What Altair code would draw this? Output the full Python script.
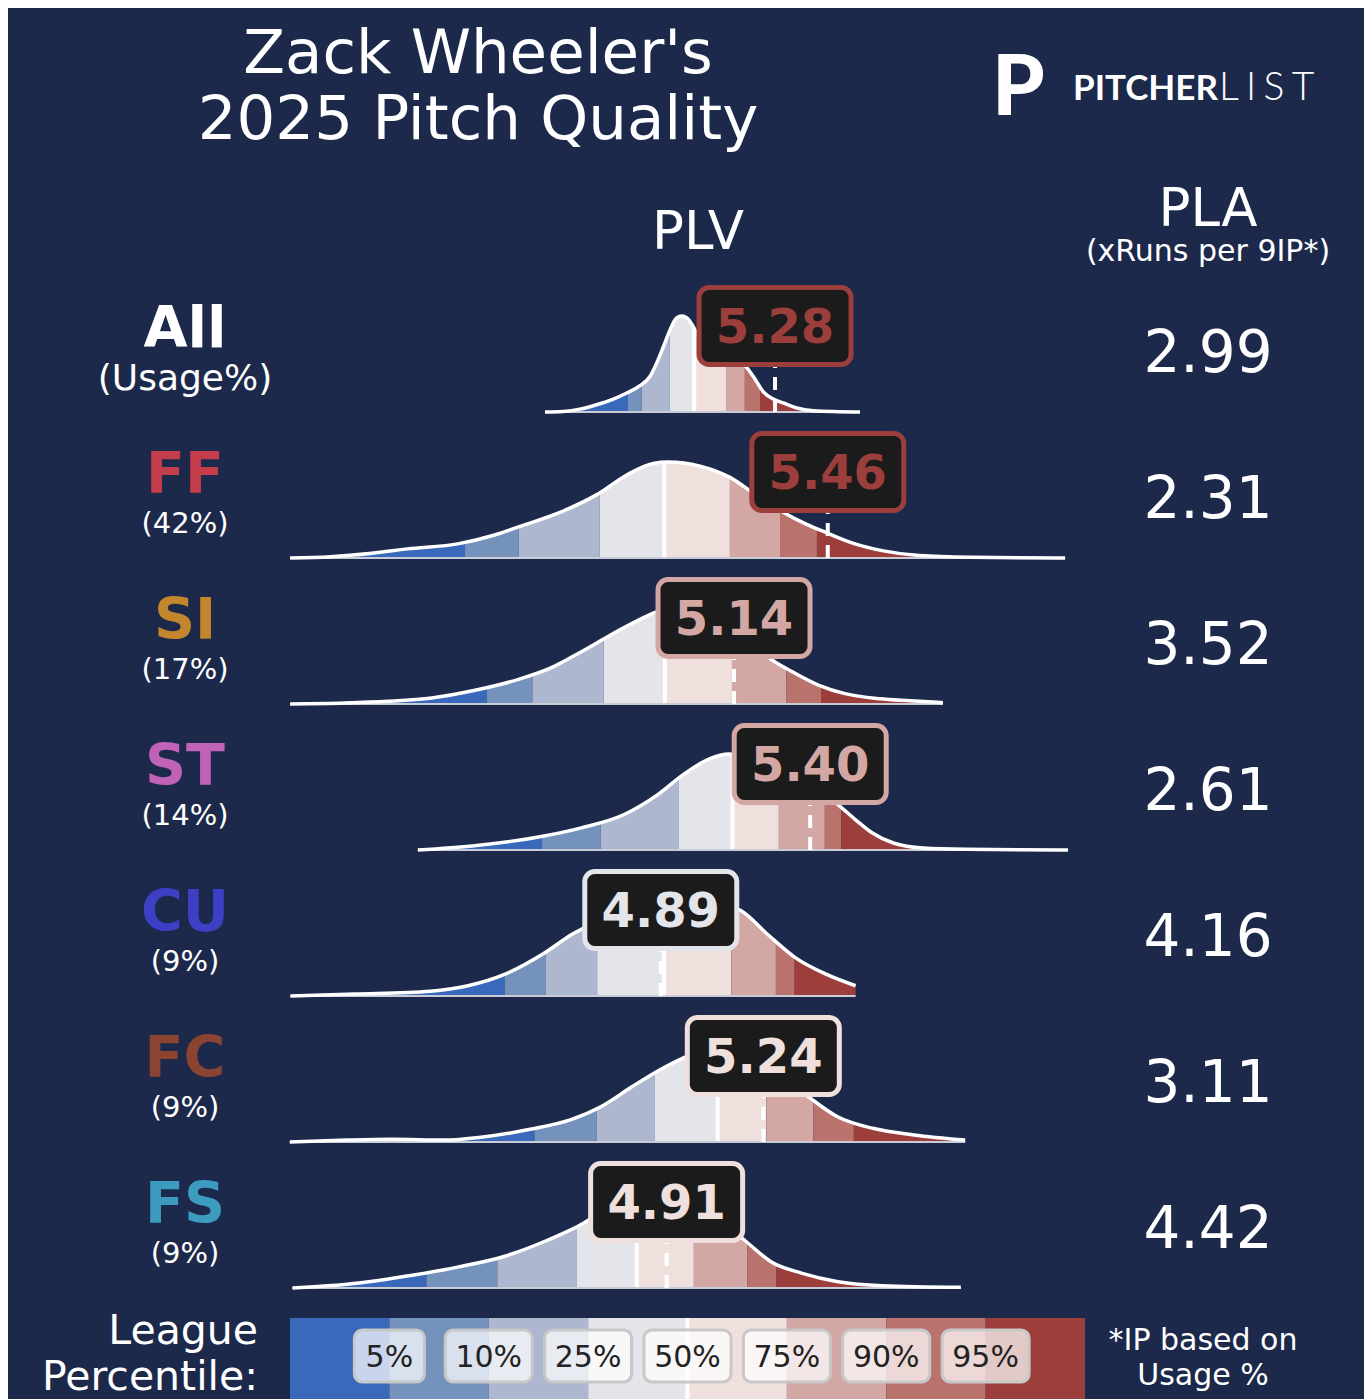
import altair as alt
import pandas as pd

BG = "#1c294b"
BAND_COLORS = ["#3a69bb", "#7592bd", "#adb8d0", "#e4e5ea", "#f0e0dd", "#d3a7a4", "#b9726c", "#9c3f3c"]

pitch_names = ["All", "FF", "SI", "ST", "CU", "FC", "FS"]
pitch_colors = ["#ffffff", "#c43d4b", "#c4862c", "#c063b8", "#3d40c4", "#8a4431", "#3e9bc0"]
usage_text = ["(Usage%)", "(42%)", "(17%)", "(14%)", "(9%)", "(9%)", "(9%)"]
plv_values = [5.28, 5.46, 5.14, 5.40, 4.89, 5.24, 4.91]
pla_values = ["2.99", "2.31", "3.52", "2.61", "4.16", "3.11", "4.42"]

# league percentile cut points (5,10,25,50,75,90,95) in PLV units, per row
edges_all = [4.777, 4.825, 4.921, 5.004, 5.115, 5.177, 5.229]
edges_ff = [4.222, 4.405, 4.681, 4.902, 5.126, 5.297, 5.423]
edges_si = [4.296, 4.452, 4.695, 4.904, 5.133, 5.318, 5.437]
edges_st = [4.485, 4.685, 4.952, 5.135, 5.293, 5.450, 5.506]
edges_cu = [4.357, 4.498, 4.673, 4.901, 5.131, 5.283, 5.347]
edges_fc = [4.459, 4.672, 4.870, 5.084, 5.250, 5.411, 5.549]
edges_fs = [4.090, 4.332, 4.604, 4.808, 5.003, 5.186, 5.285]

# density curves (PLV, relative height)
all_x = [4.495, 4.557, 4.614, 4.671, 4.728, 4.774, 4.819, 4.853, 4.876, 4.899, 4.922, 4.944, 4.962, 4.979,
         5.001, 5.024, 5.047, 5.081, 5.126, 5.172, 5.206, 5.240, 5.274, 5.308, 5.354, 5.411, 5.570]
all_h = [0, 0.006, 0.03, 0.076, 0.135, 0.198, 0.274, 0.37, 0.51, 0.68, 0.857, 0.98, 1.0, 0.98,
         0.89, 0.75, 0.683, 0.614, 0.56, 0.50, 0.37, 0.21, 0.135, 0.094, 0.042, 0.014, 0]
ff_x = [3.625, 3.764, 3.904, 4.026, 4.201, 4.323, 4.410, 4.550, 4.672, 4.777, 4.864, 4.916, 5.021, 5.126,
        5.213, 5.300, 5.388, 5.458, 5.545, 5.650, 5.772, 5.946, 6.270]
ff_h = [0, 0.014, 0.05, 0.095, 0.15, 0.24, 0.33, 0.48, 0.66, 0.87, 0.985, 1.0, 0.96, 0.84,
        0.66, 0.49, 0.35, 0.26, 0.155, 0.074, 0.025, 0.007, 0]
si_x = [3.625, 3.810, 3.959, 4.108, 4.256, 4.405, 4.509, 4.628, 4.717, 4.806, 4.881, 4.969, 5.058, 5.147,
        5.222, 5.266, 5.341, 5.430, 5.519, 5.638, 5.741, 5.853]
si_h = [0, 0.01, 0.028, 0.063, 0.143, 0.257, 0.368, 0.56, 0.716, 0.86, 0.965, 1.0, 0.93, 0.77,
        0.58, 0.467, 0.333, 0.195, 0.108, 0.055, 0.034, 0.014]
st_x = [4.061, 4.254, 4.473, 4.619, 4.765, 4.881, 4.969, 5.056, 5.122, 5.202, 5.304, 5.392, 5.480, 5.553,
        5.611, 5.684, 5.786, 5.932, 6.280]
st_h = [0, 0.045, 0.135, 0.23, 0.37, 0.58, 0.79, 0.95, 1.0, 0.97, 0.85, 0.70, 0.51, 0.32,
        0.18, 0.073, 0.02, 0.007, 0]
cu_x = [3.626, 3.847, 4.104, 4.232, 4.361, 4.489, 4.592, 4.643, 4.720, 4.810, 4.900, 5.002, 5.093, 5.163,
        5.259, 5.349, 5.452, 5.555]
cu_h = [0, 0.02, 0.05, 0.107, 0.23, 0.44, 0.65, 0.73, 0.83, 0.92, 0.97, 1.0, 0.96, 0.89,
        0.63, 0.40, 0.23, 0.107]
fc_x = [3.624, 3.820, 3.971, 4.154, 4.276, 4.444, 4.581, 4.687, 4.794, 4.886, 4.977, 5.053, 5.114, 5.190,
        5.266, 5.343, 5.389, 5.495, 5.617, 5.754, 5.929]
fc_h = [0, 0.02, 0.028, 0.02, 0.049, 0.132, 0.23, 0.37, 0.58, 0.75, 0.89, 0.98, 1.0, 0.9,
        0.75, 0.58, 0.48, 0.26, 0.14, 0.073, 0.02]
fs_x = [3.633, 3.819, 4.047, 4.200, 4.352, 4.505, 4.626, 4.687, 4.748, 4.824, 4.916, 5.008, 5.099, 5.175,
        5.266, 5.373, 5.495, 5.647, 5.914]
fs_h = [0, 0.038, 0.135, 0.22, 0.326, 0.5, 0.674, 0.795, 0.91, 0.99, 0.96, 0.84, 0.68, 0.5,
        0.274, 0.153, 0.066, 0.024, 0.007]

legend_labels = ["5%", "10%", "25%", "50%", "75%", "90%", "95%"]

curves = [(all_x, all_h), (ff_x, ff_h), (si_x, si_h), (st_x, st_h), (cu_x, cu_h), (fc_x, fc_h), (fs_x, fs_h)]
edges = [edges_all, edges_ff, edges_si, edges_st, edges_cu, edges_fc, edges_fs]

# ---------------- layout constants ----------------
W, H = 1356, 1391
PX_PER_PLV = 293.0
X_OFF = 780.0
ROW_PX = 146.0
TOP_PX = 404.0
DENS_PX = 96.0
FONT = "DejaVu Sans"
MASK_PAD = 0.03


def r(px):
    return px / ROW_PX


x_scale = alt.Scale(domain=[X_OFF / PX_PER_PLV, (W + X_OFF) / PX_PER_PLV], nice=False, zero=False)
y_scale = alt.Scale(domain=[-TOP_PX / ROW_PX, (H - TOP_PX) / ROW_PX], reverse=True, nice=False, zero=False)
LEG_X0 = 282.0
LEG_W = 99.375
lx_scale = alt.Scale(domain=[-LEG_X0 / LEG_W, (W - LEG_X0) / LEG_W], nice=False, zero=False)
band_color = alt.Color("band:O", scale=alt.Scale(domain=list(range(8)), range=BAND_COLORS), legend=None)


def X(f, sc=x_scale):
    return alt.X(f, type="quantitative", scale=sc, axis=None)


def Y(f):
    return alt.Y(f, type="quantitative", scale=y_scale, axis=None)


# ---------------- data frames ----------------
curve_rows, mask_rows, band_rows, med_rows, base_rows, val_rows, lab_rows = [], [], [], [], [], [], []
for i, ((xs, hs), ed) in enumerate(zip(curves, edges)):
    ys = [i - h * DENS_PX / ROW_PX for h in hs]
    for x, y in zip(xs, ys):
        curve_rows.append(dict(row=i, x=x, y=y))
    # the mask follows the curve and reaches a little past both ends
    mask_rows.append(dict(row=i, x=xs[0] - MASK_PAD, y=ys[0], ytop=i - r(114)))
    for x, y in zip(xs, ys):
        mask_rows.append(dict(row=i, x=x, y=y, ytop=i - r(114)))
    mask_rows.append(dict(row=i, x=xs[-1] + MASK_PAD, y=ys[-1], ytop=i - r(114)))
    bounds = [xs[0]] + ed + [xs[-1]]
    for k in range(8):
        a, b = max(bounds[k], xs[0]), min(bounds[k + 1], xs[-1])
        if b > a:
            band_rows.append(dict(row=i, band=k, x1=a, x2=b, y1=i, y2=i - r(108)))
    med_rows.append(dict(row=i, x=ed[3], y1=i, y2=i - r(108)))
    base_rows.append(dict(row=i, x1=xs[0], x2=xs[-1], y=i))
    v = plv_values[i]
    bidx = sum(1 for e in ed if v > e)
    half_w = 76 / PX_PER_PLV
    val_rows.append(dict(row=i, v=v, label=f"{v:.2f}", color=BAND_COLORS[bidx],
                         x1=v - half_w, x2=v + half_w,
                         by1=i - r(86 - 38.5), by2=i - r(86 + 38.5),
                         yc=i - r(86), yt=i - r(69.5), y0=i))
    lab_rows.append(dict(row=i, name=pitch_names[i], ncolor=pitch_colors[i], yname=i - r(65),
                         usage=usage_text[i], yusage=i - r(22 if i == 0 else 25),
                         usize=36 if i == 0 else 29,
                         pla=pla_values[i], ypla=i - r(40)))

curve_df = pd.DataFrame(curve_rows)
mask_df = pd.DataFrame(mask_rows)
band_df = pd.DataFrame(band_rows)
med_df = pd.DataFrame(med_rows)
base_df = pd.DataFrame(base_rows)
val_df = pd.DataFrame(val_rows)
lab_df = pd.DataFrame(lab_rows)

# ---------------- main layers ----------------
bands = alt.Chart(band_df).mark_rect().encode(
    x=X("x1"), x2="x2", y=Y("y1"), y2="y2", color=band_color)
medians = alt.Chart(med_df).mark_rule(color="white", strokeWidth=4).encode(
    x=X("x"), y=Y("y1"), y2="y2")
mask = alt.Chart(mask_df).mark_area(interpolate="monotone", color=BG, opacity=1).encode(
    x=X("x"), y=Y("y"), y2="ytop", detail="row:N")
baseline = alt.Chart(base_df).mark_rule(color="#c9ccd6", strokeWidth=2).encode(
    x=X("x1"), x2="x2", y=Y("y"))
line = alt.Chart(curve_df).mark_line(interpolate="monotone", color="white", strokeWidth=3.5).encode(
    x=X("x"), y=Y("y"), detail="row:N")
dash = alt.Chart(val_df).mark_rule(color="white", strokeWidth=4, strokeDash=[13, 9]).encode(
    x=X("v"), y=Y("y0"), y2="yc")
boxes = alt.Chart(val_df).mark_rect(fill="#1b1b1b", strokeWidth=5, cornerRadius=10).encode(
    x=X("x1"), x2="x2", y=Y("by1"), y2="by2", stroke=alt.Stroke("color:N", scale=None))
box_text = alt.Chart(val_df).mark_text(font=FONT, fontWeight="bold", fontSize=48, baseline="alphabetic").encode(
    x=X("v"), y=Y("yt"), text="label:N", color=alt.Color("color:N", scale=None))
names = alt.Chart(lab_df).mark_text(font=FONT, fontWeight="bold", fontSize=57, baseline="alphabetic").encode(
    x=alt.value(177), y=Y("yname"), text="name:N", color=alt.Color("ncolor:N", scale=None))
usage = alt.Chart(lab_df).mark_text(font=FONT, color="white", baseline="alphabetic").encode(
    x=alt.value(177), y=Y("yusage"), text="usage:N", size=alt.Size("usize:Q", scale=None))
pla = alt.Chart(lab_df).mark_text(font=FONT, color="white", fontSize=58, baseline="alphabetic").encode(
    x=alt.value(1200), y=Y("ypla"), text="pla:N")


def txt(s, x, y, size, align="center", weight="normal", font=FONT, color="white"):
    return alt.Chart(pd.DataFrame({"t": [s]})).mark_text(
        font=font, fontSize=size, fontWeight=weight, align=align, baseline="alphabetic", color=color
    ).encode(text="t:N", x=alt.value(x), y=alt.value(y))


fixed = [
    txt("Zack Wheeler's", 470, 65, 61),
    txt("2025 Pitch Quality", 470, 131, 61),
    txt("PLV", 690, 241, 53),
    txt("PLA", 1200, 218, 53),
    txt("(xRuns per 9IP*)", 1200, 253, 30),
    txt("League", 250, 1336, 41, align="right"),
    txt("Percentile:", 250, 1382, 41, align="right"),
    txt("*IP based on", 1195, 1342, 30),
    txt("Usage %", 1195, 1377, 30),
    txt("P", 984, 107, 84, align="left", weight=900, font="Lato"),
    txt("PITCHER", 1065, 92, 35, align="left", weight="bold", font="Lato"),
    txt("L\u2009\u200aI\u2009\u200aS\u2009\u200aT", 1211, 92, 39, align="left", weight=300, font="Lato"),
]

main = alt.layer(bands, medians, mask, baseline, line, dash, boxes, box_text, names, usage, pla, *fixed)

# ---------------- legend ----------------
leg_top, leg_bot = r(1310 - TOP_PX), r(1392 - TOP_PX)
leg_mid = r(1348 - TOP_PX)
leg_band_df = pd.DataFrame([dict(band=k, x1=k, x2=k + 1, y1=leg_top, y2=leg_bot) for k in range(8)])
leg_lab_df = pd.DataFrame([
    dict(k=j + 1, label=lab,
         x1=j + 1 - (35 if len(lab) == 2 else 43.5) / LEG_W,
         x2=j + 1 + (35 if len(lab) == 2 else 43.5) / LEG_W,
         y1=leg_mid - r(26), y2=leg_mid + r(26), yt=leg_mid + r(11))
    for j, lab in enumerate(legend_labels)])
leg_mid_df = pd.DataFrame([dict(x=4, y1=leg_top, y2=leg_bot)])

leg_bands = alt.Chart(leg_band_df).mark_rect().encode(
    x=X("x1", lx_scale), x2="x2", y=Y("y1"), y2="y2", color=band_color)
leg_line = alt.Chart(leg_mid_df).mark_rule(color="white", strokeWidth=4).encode(
    x=X("x", lx_scale), y=Y("y1"), y2="y2")
leg_boxes = alt.Chart(leg_lab_df).mark_rect(
    fill="white", fillOpacity=0.72, stroke="#c8c8c8", strokeWidth=3, cornerRadius=8).encode(
    x=X("x1", lx_scale), x2="x2", y=Y("y1"), y2="y2")
leg_text = alt.Chart(leg_lab_df).mark_text(font=FONT, fontSize=30, color="#222222", baseline="alphabetic").encode(
    x=X("k", lx_scale), y=Y("yt"), text="label:N")

legend = alt.layer(leg_bands, leg_line, leg_boxes, leg_text)

chart = alt.layer(main, legend).resolve_scale(x="independent").properties(
    width=W, height=H, autosize=alt.AutoSizeParams(type="none"), padding=0, background=BG
).configure_view(strokeWidth=0)

chart.save("out.html", embed_options={"renderer": "svg", "actions": False})
